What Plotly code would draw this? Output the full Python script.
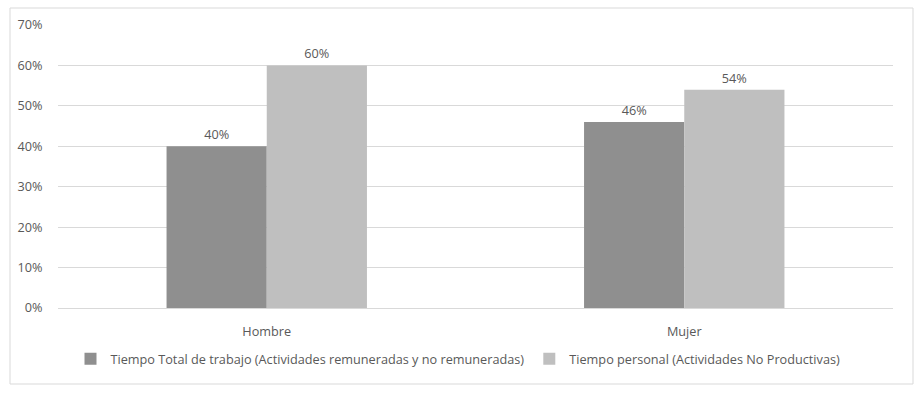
import plotly.graph_objects as go

categories = ["Hombre", "Mujer"]
trabajo = [40, 46]
personal = [60, 54]
series_names = [
    "Tiempo Total de trabajo (Actividades remuneradas y no remuneradas)",
    "Tiempo personal (Actividades No Productivas)",
]
y_ticks = [0, 10, 20, 30, 40, 50, 60, 70]
y_tick_labels = [f"{v}%" for v in y_ticks]

TEXT = "#595959"
FONT = "Open Sans"
FS = 12.7

fig = go.Figure()
for vals, name, color in [(trabajo, series_names[0], "#8f8f8f"),
                          (personal, series_names[1], "#bfbfbf")]:
    fig.add_trace(go.Bar(
        x=categories, y=vals, name=name,
        marker=dict(color=color, line=dict(width=0)),
        text=[f"{v}%" for v in vals], texttemplate="%{text}",
        textposition="outside",
        textfont=dict(color=TEXT, size=FS, family=FONT),
        cliponaxis=False, hoverinfo="skip",
    ))

W, H = 921, 395
L, R, T, B = 58, 28, 25, 87
pw, ph = W - L - R, H - T - B

def px_to_paper_x(px):
    return (px - L) / pw

def px_to_paper_y(py):
    return (H - B - py) / ph

fig.update_layout(
    width=W, height=H,
    margin=dict(l=L, r=R, t=T, b=B),
    paper_bgcolor="white", plot_bgcolor="white",
    barmode="group", bargap=0.52, bargroupgap=0,
    font=dict(family=FONT, color=TEXT, size=FS),
    showlegend=True,
    legend=dict(
        orientation="h", x=px_to_paper_x(458), xanchor="center",
        y=px_to_paper_y(359), yanchor="middle",
        font=dict(size=FS, color=TEXT, family=FONT),
        itemwidth=30, tracegroupgap=0,
    ),
    xaxis=dict(
        showgrid=False, showline=False, ticks="outside", ticklen=12,
        tickcolor="rgba(0,0,0,0)", tickfont=dict(size=FS, color=TEXT),
    ),
    yaxis=dict(
        range=[0, 70], tickvals=y_ticks, ticktext=y_tick_labels,
        showgrid=True, gridcolor="#d9d9d9", gridwidth=1,
        zeroline=True, zerolinecolor="#d9d9d9", zerolinewidth=1,
        showline=False, ticks="outside", ticklen=12,
        tickcolor="rgba(0,0,0,0)", tickfont=dict(size=FS, color=TEXT),
    ),
    shapes=[dict(
        type="rect", xref="paper", yref="paper",
        x0=px_to_paper_x(10), x1=px_to_paper_x(913),
        y0=px_to_paper_y(384), y1=px_to_paper_y(8),
        line=dict(color="#d9d9d9", width=1), fillcolor="rgba(0,0,0,0)",
        layer="below",
    )],
)

fig.write_html("out.html", config={"displayModeBar": False},
               post_script="document.body.style.margin='0';")
